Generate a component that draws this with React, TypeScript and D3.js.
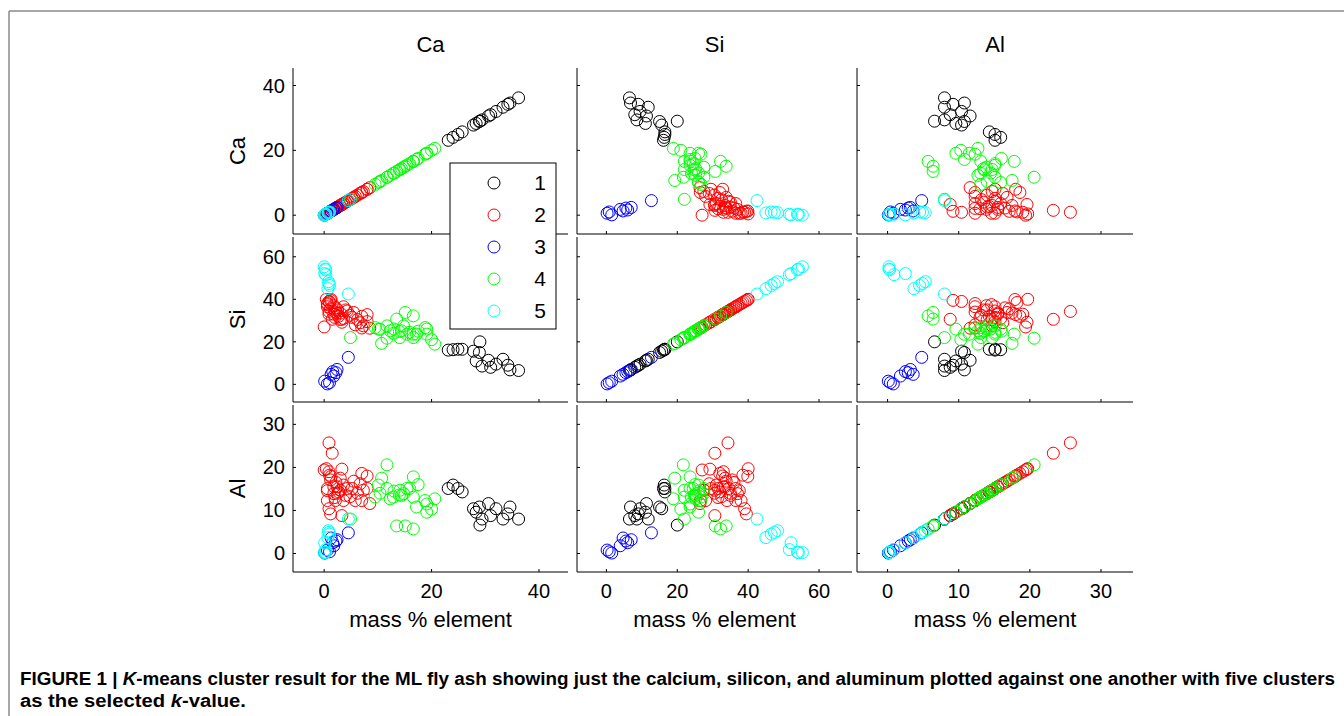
import React from "react";
import * as d3 from "d3";

type Sample = [number, number, number]; // [Ca, Si, Al]

const variables = ["Ca", "Si", "Al"];
const clusterLabels = ["1", "2", "3", "4", "5"];
const clusterColors = ["#000000", "#ff0000", "#0000ff", "#00ff00", "#00ffff"];
const caTicks = [0, 20, 40];
const siTicks = [0, 20, 40, 60];
const alTicks = [0, 10, 20, 30];
const caDomain: [number, number] = [-5.8, 45.4];
const siDomain: [number, number] = [-8.3, 69.3];
const alDomain: [number, number] = [-4.3, 34.5];

const cluster1: Sample[] = [
  [36.2, 6.5, 8.0], [34.6, 6.8, 10.8], [34.2, 9.0, 9.2], [33.3, 11.8, 8.0],
  [32.0, 9.5, 10.4], [30.6, 11.3, 11.6], [29.4, 8.6, 8.0], [31.0, 8.0, 8.8],
  [28.9, 15.0, 10.8], [27.8, 15.6, 10.4], [29.0, 20.0, 6.6], [28.3, 11.0, 9.6],
  [25.7, 16.5, 14.3], [24.9, 16.5, 15.1], [24.0, 16.3, 15.9], [23.1, 16.1, 15.1],
];
const cluster2: Sample[] = [
  [0.9, 34.3, 25.7], [1.5, 30.6, 23.3], [0.0, 27.0, 19.4], [0.9, 33.0, 19.0],
  [3.3, 29.2, 19.6], [7.0, 32.0, 18.6], [8.0, 32.8, 18.0], [1.2, 35.5, 17.1],
  [0.6, 36.5, 15.1], [2.4, 33.5, 15.5], [3.6, 31.0, 15.9], [4.3, 34.5, 15.1],
  [1.8, 37.0, 13.9], [3.0, 30.5, 14.7], [5.2, 31.5, 15.1], [6.7, 29.0, 16.2],
  [7.3, 27.5, 14.7], [8.0, 29.5, 15.1], [0.6, 38.0, 12.3], [2.1, 34.0, 12.3],
  [3.6, 36.5, 12.3], [5.8, 28.0, 12.3], [7.0, 26.5, 12.3], [8.5, 26.4, 11.6],
  [0.9, 39.0, 10.4], [1.2, 39.5, 9.2], [3.3, 30.6, 8.8], [1.8, 33.0, 15.5],
  [2.7, 32.0, 14.3], [4.0, 35.0, 13.5], [2.2, 36.0, 16.5], [3.0, 33.5, 17.5],
  [1.0, 38.5, 18.2], [4.8, 32.5, 13.2], [2.5, 35.0, 14.0], [6.2, 30.5, 14.0],
  [0.4, 40.0, 19.7], [1.3, 39.9, 17.9], [0.6, 37.5, 14.6], [5.5, 33.8, 16.8],
  [2.0, 31.5, 13.0],
];
const cluster3: Sample[] = [
  [0.1, 1.5, 0.1], [0.6, 0.2, 0.8], [1.0, 0.8, 0.4], [1.8, 3.9, 1.8],
  [2.2, 5.5, 2.9], [1.3, 4.7, 3.6], [2.4, 7.0, 3.2], [1.6, 6.0, 2.5],
  [4.5, 12.7, 4.8],
];
const cluster4: Sample[] = [
  [11.7, 21.7, 20.6], [10.7, 19.3, 17.5], [4.9, 22.0, 8.0], [10.1, 26.0, 15.9],
  [9.5, 26.7, 13.1], [10.4, 25.9, 14.0], [11.7, 27.5, 15.1], [12.3, 25.2, 12.7],
  [12.9, 24.0, 13.1], [14.1, 22.0, 14.7], [14.4, 25.2, 13.5], [15.4, 23.6, 15.1],
  [16.6, 23.6, 17.8], [15.9, 24.5, 15.1], [16.6, 22.0, 13.1], [17.2, 23.6, 10.8],
  [18.8, 26.7, 12.3], [19.1, 26.0, 9.6], [19.1, 23.6, 11.5], [20.6, 18.9, 12.7],
  [13.5, 30.7, 6.4], [15.1, 33.8, 6.4], [16.6, 32.2, 5.7], [14.8, 27.5, 13.9],
  [13.0, 26.0, 14.5], [14.0, 24.8, 13.6], [20.0, 21.0, 10.3], [17.5, 25.0, 16.0],
];
const cluster5: Sample[] = [
  [0.0, 55.3, 0.2], [0.2, 54.2, 0.2], [0.3, 53.9, 0.3], [0.1, 52.1, 2.5],
  [0.3, 51.6, 0.9], [0.8, 48.3, 5.3], [0.9, 47.4, 4.9], [1.0, 46.5, 4.5],
  [0.7, 45.0, 3.7], [4.5, 42.5, 8.0],
];

const clusters = [cluster1, cluster2, cluster3, cluster4, cluster5];
const domains = [caDomain, siDomain, alDomain];
const ticks = [caTicks, siTicks, alTicks];

const colRanges: [number, number][] = [[293, 568], [577, 852], [857, 1133]];
const rowRanges: [number, number][] = [[68, 234], [237, 402], [405, 572]];

const FONT = "'Liberation Sans', Arial, Helvetica, sans-serif";
const CAPTION_FONT = "'Liberation Sans Narrow', 'Arial Narrow', 'Liberation Sans', Arial, sans-serif";

export default function App() {
  const panels: React.ReactNode[] = [];
  for (let r = 0; r < 3; r++) {
    for (let c = 0; c < 3; c++) {
      const [x0, x1] = colRanges[c];
      const [y0, y1] = rowRanges[r];
      const xs = d3.scaleLinear().domain(domains[c]).range([x0, x1]);
      const ys = d3.scaleLinear().domain(domains[r]).range([y1, y0]);
      panels.push(
        <g key={`p${r}${c}`}>
          <line x1={x0} x2={x0} y1={y0} y2={y1} stroke="#000" strokeWidth={1} />
          <line x1={x0} x2={x1} y1={y1} y2={y1} stroke="#000" strokeWidth={1} />
          {ticks[c].map((t) => (
            <line key={`xt${t}`} x1={xs(t)} x2={xs(t)} y1={y1} y2={y1 - 3} stroke="#000" />
          ))}
          {ticks[r].map((t) => (
            <line key={`yt${t}`} x1={x0} x2={x0 + 3} y1={ys(t)} y2={ys(t)} stroke="#000" />
          ))}
          {r === 2 &&
            ticks[c].map((t) => (
              <text key={`xl${t}`} x={xs(t)} y={598} textAnchor="middle" fontSize={20} fontFamily={FONT} fill="#000">
                {t}
              </text>
            ))}
          {c === 0 &&
            ticks[r].map((t) => (
              <text key={`yl${t}`} x={285} y={ys(t)} dy="0.35em" textAnchor="end" fontSize={20} fontFamily={FONT} fill="#000">
                {t}
              </text>
            ))}
          {clusters.map((cl, k) =>
            cl.map((s, i) => (
              <circle
                key={`c${k}-${i}`}
                cx={xs(s[c])}
                cy={ys(s[r])}
                r={6}
                fill="none"
                stroke={clusterColors[k]}
                strokeWidth={1}
              />
            ))
          )}
        </g>
      );
    }
  }

  return (
    <svg
      width={1344}
      height={716}
      style={{ position: "absolute", left: 0, top: 0, background: "#fff" }}
    >
      <rect x={0} y={0} width={1344} height={716} fill="#fff" />
      <line x1={9} x2={1344} y1={11} y2={11} stroke="#8a8a8a" strokeWidth={1.5} />
      <line x1={9} x2={9} y1={11} y2={716} stroke="#8a8a8a" strokeWidth={1.5} />
      {panels}
      {variables.map((v, i) => (
        <text key={`ct${v}`} x={(colRanges[i][0] + colRanges[i][1]) / 2} y={52} textAnchor="middle" fontSize={22} fontFamily={FONT}>
          {v}
        </text>
      ))}
      {variables.map((v, i) => (
        <text
          key={`rt${v}`}
          transform={`translate(245,${(rowRanges[i][0] + rowRanges[i][1]) / 2}) rotate(-90)`}
          textAnchor="middle"
          fontSize={22}
          fontFamily={FONT}
        >
          {v}
        </text>
      ))}
      {colRanges.map((cr, i) => (
        <text key={`xlab${i}`} x={(cr[0] + cr[1]) / 2} y={627} textAnchor="middle" fontSize={22} fontFamily={FONT}>
          mass % element
        </text>
      ))}
      <g>
        <rect x={450} y={163} width={106} height={166} fill="#fff" stroke="#000" strokeWidth={1} />
        {clusterLabels.map((lab, i) => (
          <g key={`lg${lab}`}>
            <circle cx={494} cy={183 + i * 32} r={6} fill="none" stroke={clusterColors[i]} strokeWidth={1} />
            <text x={540} y={183 + i * 32} dy="0.35em" textAnchor="middle" fontSize={21} fontFamily={FONT}>
              {lab}
            </text>
          </g>
        ))}
      </g>
      <text
        x={20}
        y={685}
        fontSize={18}
        fontWeight="bold"
        fontFamily={CAPTION_FONT}
        textLength={1315}
        lengthAdjust="spacingAndGlyphs"
      >
        FIGURE 1 | <tspan fontStyle="italic">K</tspan>-means cluster result for the ML fly ash showing just the calcium, silicon, and aluminum plotted against one another with five clusters
      </text>
      <text
        x={20}
        y={707}
        fontSize={18}
        fontWeight="bold"
        fontFamily={CAPTION_FONT}
        textLength={226}
        lengthAdjust="spacingAndGlyphs"
      >
        as the selected <tspan fontStyle="italic">k</tspan>-value.
      </text>
    </svg>
  );
}
